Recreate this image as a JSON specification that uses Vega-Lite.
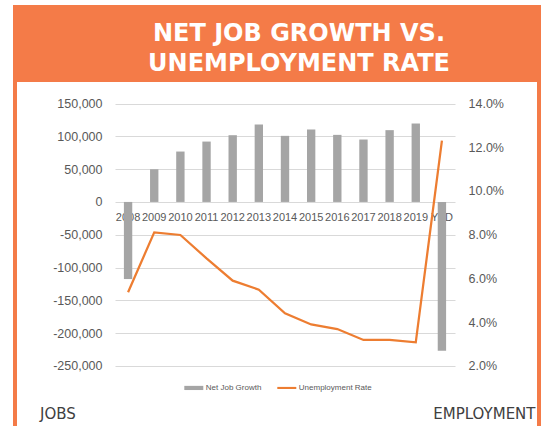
{
  "$schema": "https://vega.github.io/schema/vega-lite/v6.json",
  "background": "white",
  "padding": {"left": 13, "top": 5, "right": 4, "bottom": 0},
  "spacing": 0,
  "bounds": "flush",
  "config": {
    "locale": {"number": {"decimal": ".", "thousands": ",", "grouping": [3], "currency": ["$", ""], "minus": "-"}},
    "font": "Liberation Sans"
  },
  "vconcat": [
    {
      "width": 524,
      "height": 73,
      "view": {"fill": "#F47B48", "stroke": "#F47B48", "strokeWidth": 4},
      "data": {"values": [{"t": "NET JOB GROWTH VS.\nUNEMPLOYMENT RATE"}]},
      "mark": {"type": "text", "lineBreak": "\n", "font": "DejaVu Sans", "fontWeight": "bold", "fontSize": 24, "color": "white", "lineHeight": 30, "align": "center", "baseline": "middle", "dx": 22, "dy": -10},
      "encoding": {"text": {"field": "t", "type": "nominal"}}
    },
    {
      "width": 524,
      "height": 346,
      "view": {"fill": "white", "stroke": "#F47B48", "strokeWidth": 4, "strokeDash": [870, 524, 400]},
      "data": {"values": [
        {"year": "2008", "jobs": -117500, "rate": 5.37},
        {"year": "2009", "jobs": 49800, "rate": 8.11},
        {"year": "2010", "jobs": 76800, "rate": 7.99},
        {"year": "2011", "jobs": 92000, "rate": 6.92},
        {"year": "2012", "jobs": 101700, "rate": 5.9},
        {"year": "2013", "jobs": 118000, "rate": 5.49},
        {"year": "2014", "jobs": 100700, "rate": 4.41},
        {"year": "2015", "jobs": 110400, "rate": 3.9},
        {"year": "2016", "jobs": 102200, "rate": 3.69},
        {"year": "2017", "jobs": 95100, "rate": 3.19},
        {"year": "2018", "jobs": 109400, "rate": 3.19},
        {"year": "2019", "jobs": 119500, "rate": 3.08},
        {"year": "YTD", "jobs": -226900, "rate": 12.3}
      ]},
      "encoding": {
        "x": {
          "field": "year", "type": "nominal", "sort": null,
          "scale": {"type": "band", "range": [100, 440], "paddingInner": 0.68, "paddingOuter": 0.34},
          "axis": {"orient": "bottom", "offset": -224, "domain": false, "ticks": false, "tickSize": 0, "labelPadding": 15.6, "labelBaseline": "middle", "labelAngle": 0, "labelFontSize": 11, "labelColor": "#595959", "labelOverlap": false, "title": null, "grid": false}
        }
      },
      "layer": [
        {
          "mark": {"type": "bar"},
          "encoding": {
            "y": {
              "field": "jobs", "type": "quantitative",
              "scale": {"domain": [-341429, 185810], "nice": false, "zero": false},
              "axis": {
                "orient": "left", "offset": -100,
                "values": [-250000, -200000, -150000, -100000, -50000, 0, 50000, 100000, 150000],
                "format": ",.0f", "domain": false, "ticks": false, "tickSize": 0, "labelPadding": 13,
                "labelFontSize": 12.5, "labelColor": "#595959",
                "grid": true, "gridColor": "#D9D9D9", "gridWidth": 1,
                "title": "JOBS", "titleAngle": 0, "titleX": -75.5, "titleY": 338, "titleAlign": "left", "titleBaseline": "alphabetic",
                "titleFont": "DejaVu Sans", "titleFontWeight": "normal", "titleFontSize": 15, "titleColor": "#404040"
              }
            },
            "color": {
              "datum": "Net Job Growth",
              "scale": {"domain": ["Net Job Growth", "Unemployment Rate"], "range": ["#A5A5A5", "#ED7D31"]},
              "legend": {
                "orient": "none", "legendX": 169.3, "legendY": 371.2, "direction": "horizontal", "title": null,
                "labelFontSize": 8, "labelColor": "#595959", "labelOffset": 2.5, "columnPadding": 15,
                "symbolSize": 361, "symbolType": "M-1,-0.22H1V0.22H-1Z", "padding": 0,
                "symbolStrokeWidth": 0, "symbolOpacity": 1,
                "encode": {"symbols": {"update": {
                  "shape": {"signal": "datum.value === 'Net Job Growth' ? 'M-1,-0.22H1V0.22H-1Z' : 'M-1,-0.11H1V0.11H-1Z'"},
                  "fill": {"scale": "color", "field": "value"},
                  "strokeWidth": {"value": 0},
                  "opacity": {"value": 1}
                }}}
              }
            }
          }
        },
        {
          "mark": {"type": "line", "strokeWidth": 2.25},
          "encoding": {
            "y": {
              "field": "rate", "type": "quantitative",
              "scale": {"domain": [-0.743, 15.074], "nice": false, "zero": false},
              "axis": {
                "orient": "right", "offset": -84,
                "values": [2, 4, 6, 8, 10, 12, 14],
                "labelExpr": "format(datum.value, '.1f') + '%'",
                "domain": false, "ticks": false, "tickSize": 0, "labelPadding": 13,
                "labelFontSize": 12.5, "labelColor": "#595959", "grid": false,
                "title": "EMPLOYMENT", "titleAngle": 0, "titleX": 80, "titleY": 338, "titleAlign": "right", "titleBaseline": "alphabetic",
                "titleFont": "DejaVu Sans", "titleFontWeight": "normal", "titleFontSize": 15, "titleColor": "#404040"
              }
            },
            "color": {"datum": "Unemployment Rate"}
          }
        }
      ],
      "resolve": {"scale": {"y": "independent"}}
    }
  ]
}
